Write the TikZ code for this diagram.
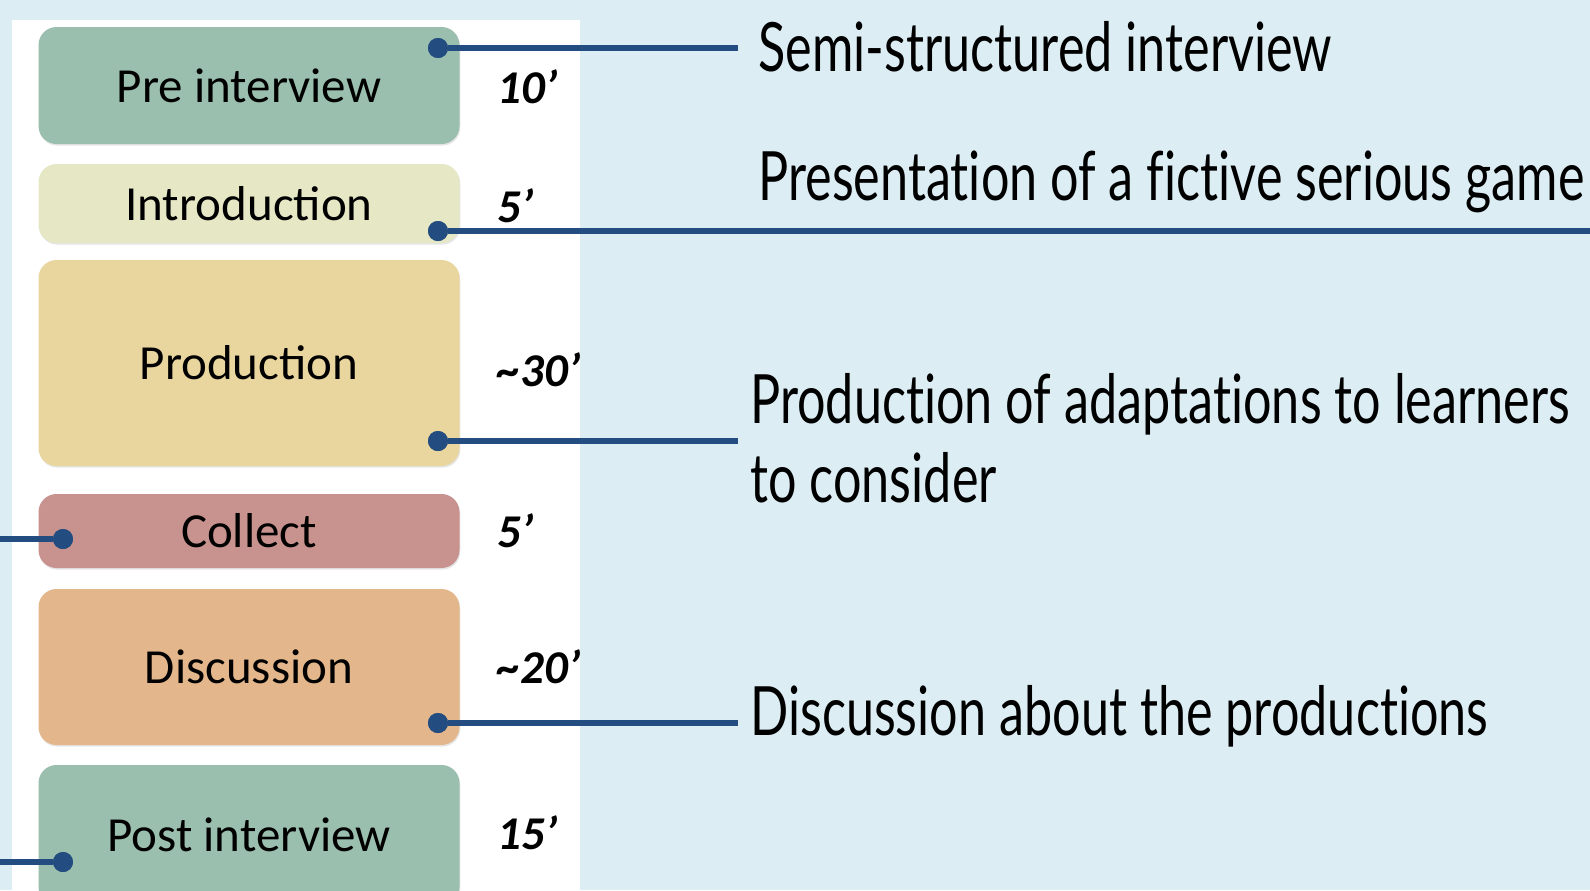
\documentclass[tikz,border=0pt]{standalone}
\usepackage{fontspec}
\setmainfont{Carlito}
\newfontfamily\narrowfont[FakeStretch=0.74,Ligatures=NoCommon]{Lato}
\usetikzlibrary{shadows}
\definecolor{bgblue}{HTML}{DCEDF3}
\definecolor{sage}{HTML}{9BBFAE}
\definecolor{cream}{HTML}{E6E7C4}
\definecolor{sand}{HTML}{E9D69F}
\definecolor{rose}{HTML}{C8938F}
\definecolor{apricot}{HTML}{E3B78B}
\definecolor{navy}{HTML}{234D80}
\begin{document}
\begin{tikzpicture}
[x=0.5pt,y=-0.5pt,
 box/.style={rounded corners=9pt, minimum width=210.5pt, inner sep=0pt,
   font=\fontsize{24.5}{28}\selectfont,
   drop shadow={opacity=0.2,shadow xshift=0.4pt,shadow yshift=-0.8pt}},
 time/.style={anchor=west, inner sep=0pt, font=\fontsize{23.5}{28}\selectfont\bfseries\itshape},
 note/.style={anchor=west, align=left, inner xsep=6pt, inner ysep=0pt,
   font=\narrowfont\fontsize{34}{39.5}\selectfont},
 dot/.style={circle, fill=navy, inner sep=0pt, minimum size=10pt},
 link/.style={navy, line width=3pt,
   preaction={draw=black, opacity=0.15, transform canvas={yshift=-1.2pt}}}]
\clip (0,0) rectangle (1590,890);
\fill [bgblue] (0,0) rectangle (1590,890);
\fill [white] (12,20) rectangle (580,890);
% phases of the session
\node [box, fill=sage, minimum height=58.5pt] (pre) at (249,85.5) {Pre interview};
\node [box, fill=cream, minimum height=39.5pt] (intro) at (249,203.5) {Introduction};
\node [box, fill=sand, minimum height=103pt] (prod) at (249,363) {Production};
\node [box, fill=rose, minimum height=37pt] (coll) at (249,531) {Collect};
\node [box, fill=apricot, minimum height=78pt] (disc) at (249,667) {Discussion};
\node [box, fill=sage, minimum height=70pt] (post) at (249,835) {Post interview};
% durations
\node [time] (t1) at (497,87) {10’};
\node [time] (t2) at (497,206) {5’};
\node [time] (t3) at (497,370) {\textasciitilde30’};
\node [time] (t4) at (497,531) {5’};
\node [time] (t5) at (497,667) {\textasciitilde20’};
\node [time] (t6) at (497,833) {15’};
% comments
\node [note] (semi) at (746,47) {Semi-structured interview};
\node [note] (pres) at (746,182) {Presentation of a fictive serious game};
\node [note] (prodnote) at (738,438) {Production of adaptations to learners\\to consider};
\node [note] (discnote) at (738,716) {Discussion about the productions};
% connectors
\node [dot] (d1) at (438,48) {};
\node [dot] (d2) at (438,231) {};
\node [dot] (d3) at (438,441) {};
\node [dot] (d4) at (63,539) {};
\node [dot] (d5) at (438,723) {};
\node [dot] (d6) at (63,862) {};
\coordinate (e2) at (1590,231);
\coordinate (e4) at (0,539);
\coordinate (e6) at (0,862);
\draw [link] (d1) -- (d1 -| prodnote.west);
\draw [link] (d2) -- (e2);
\draw [link] (d3) -- (d3 -| prodnote.west);
\draw [link] (d4) -- (e4);
\draw [link] (d5) -- (d5 -| discnote.west);
\draw [link] (d6) -- (e6);
\foreach \d in {d1,d2,d3,d4,d5,d6}
  \fill [navy] (\d) circle (5pt);
\end{tikzpicture}
\end{document}
